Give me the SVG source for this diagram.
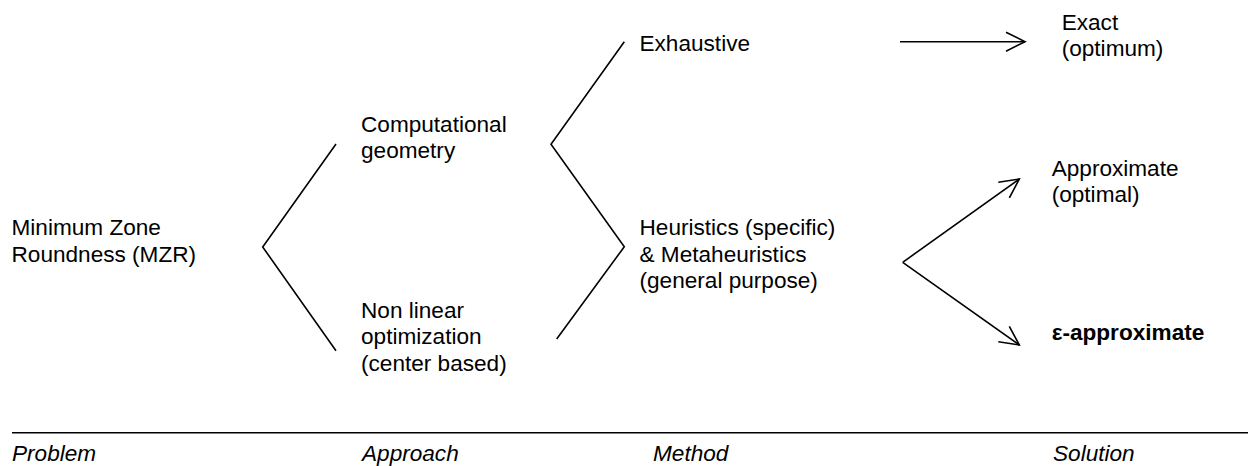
<svg xmlns="http://www.w3.org/2000/svg" width="1248" height="466" viewBox="0 0 1248 466">
<style>
text{font-family:"Liberation Sans",Arial,sans-serif;font-size:22.6px;fill:#000}
.b{font-weight:bold}
.i{font-style:italic}
.ln{stroke:#000;stroke-width:1.6;fill:none}
</style>
<defs>
<marker id="ah" markerUnits="userSpaceOnUse" viewBox="-22 -12 24 24" markerWidth="24" markerHeight="24" refX="0" refY="0" orient="auto">
<path d="M-19,-9.5 L0,0 L-19,9.5" fill="none" stroke="#000" stroke-width="1.6"/>
</marker>
</defs>
<rect width="1248" height="466" fill="#fff"/>
<g id="connectors">
<polyline class="ln" points="336,144 262.7,247 336,350.7"/>
<polyline class="ln" points="624.3,41.7 551,144.3 624.3,246.7 556.7,339"/>
<line class="ln" x1="900" y1="41.7" x2="1025" y2="41.7" marker-end="url(#ah)"/>
<line class="ln" x1="902.7" y1="262.3" x2="1019.3" y2="179" marker-end="url(#ah)"/>
<line class="ln" x1="902.7" y1="262.3" x2="1019.3" y2="345" marker-end="url(#ah)"/>
<line class="ln" x1="12" y1="432.7" x2="1248" y2="432.7" stroke-width="2"/>
</g>
<g id="mzr"><text x="11.5" y="235">Minimum Zone</text><text x="11.5" y="261.5">Roundness (MZR)</text></g>
<g id="compgeo"><text x="361" y="131.7">Computational</text><text x="361" y="158">geometry</text></g>
<g id="nonlinear"><text x="361" y="318">Non linear</text><text x="361" y="344.3">optimization</text><text x="361" y="370.5">(center based)</text></g>
<g id="exhaustive"><text x="639.5" y="51">Exhaustive</text></g>
<g id="heuristics"><text x="639.5" y="235">Heuristics (specific)</text><text x="639.5" y="261.5">&amp; Metaheuristics</text><text x="639.5" y="287.8">(general purpose)</text></g>
<g id="exact"><text x="1061.7" y="30">Exact</text><text x="1061.7" y="56">(optimum)</text></g>
<g id="approx"><text x="1051.7" y="175.7">Approximate</text><text x="1051.7" y="201.7">(optimal)</text></g>
<g id="eps"><text class="b" x="1051.7" y="340">ε-approximate</text></g>
<g id="labels">
<text class="i" x="12" y="461">Problem</text>
<text class="i" x="362" y="461">Approach</text>
<text class="i" x="653" y="461">Method</text>
<text class="i" x="1053" y="461">Solution</text>
</g>
</svg>
